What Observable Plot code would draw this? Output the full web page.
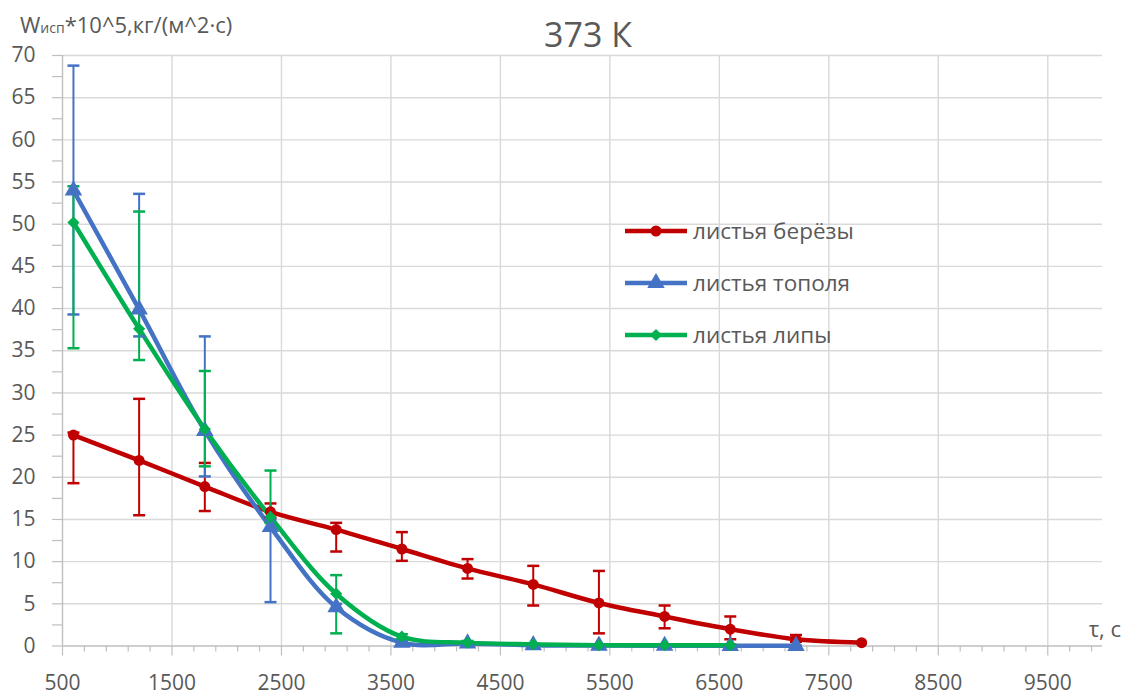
<!DOCTYPE html>
<html>
<head>
<meta charset="utf-8">
<script src="https://cdn.jsdelivr.net/npm/d3@7"></script>
<script src="https://cdn.jsdelivr.net/npm/@observablehq/plot@0.6"></script>
<style>
  html, body { margin: 0; padding: 0; background: #fff; }
  #wrap { position: relative; width: 1131px; height: 695px; font-family: "Open Sans", "Noto Sans", sans-serif; }
  #wrap svg { position: absolute; left: 0; top: 0; }
</style>
</head>
<body>
<div id="wrap"></div>
<script>
// ---- data ----
const tau = [600, 1200, 1800, 2400, 3000, 3600, 4200, 4800, 5400, 6000, 6600, 7200, 7800];

const birch   = [25.0, 22.0, 18.9, 15.9, 13.8, 11.5, 9.2, 7.3, 5.1, 3.5, 2.0, 0.8, 0.4];
const birchHi = [25.3, 29.3, 21.7, 16.9, 14.6, 13.5, 10.3, 9.5, 8.9, 4.8, 3.5, 1.3, null];
const birchLo = [19.3, 15.5, 16.0, 15.2, 11.2, 10.1, 8.0, 4.8, 1.5, 2.1, 0.8, 0.5, null];

const poplar   = [54.0, 39.9, 25.5, 14.1, 4.6, 0.4, 0.3, 0.1, 0.05, 0.03, 0.02, 0.02];
const poplarHi = [68.8, 53.6, 36.7, 15.0, 5.0, 0.6, 0.5, 0.2, 0.1, 0.05, 0.04, 0.04];
const poplarLo = [39.3, 36.7, 20.1, 5.2, 4.2, 0.2, 0.1, 0.0, 0.0, 0.0, 0.0, 0.0];

const linden   = [50.2, 37.6, 25.7, 15.3, 6.2, 1.1, 0.4, 0.2, 0.1, 0.1, 0.1];
const lindenHi = [54.5, 51.5, 32.6, 20.8, 8.4, 1.4, 0.6, 0.3, 0.2, 0.2, 0.2];
const lindenLo = [35.3, 33.9, 21.3, 14.6, 1.5, 0.8, 0.2, 0.1, 0.0, 0.0, 0.0];

const seriesNames = ["листья берёзы", "листья тополя", "листья липы"];
const seriesColors = ["#C00000", "#4472C4", "#00B050"];
const seriesSymbols = ["circle", "triangle", "diamond2"];

const xTicksMajor = [500, 1500, 2500, 3500, 4500, 5500, 6500, 7500, 8500, 9500];
const xTicksMinor = d3.range(500, 10001, 200);
const yTicksMajor = d3.range(0, 70.1, 5);
const yTicksMinor = d3.range(0, 70.1, 2.5);

const titleText = "373 К";
const xLabelText = "τ, с";

// ---- build tables ----
function rows(vals, hi, lo) {
  return vals.map((v, i) => ({tau: tau[i], v, hi: hi[i], lo: lo[i]}));
}
const tables = [rows(birch, birchHi, birchLo), rows(poplar, poplarHi, poplarLo), rows(linden, lindenHi, lindenLo)];

const capSymbol = {
  draw(ctx, size) {
    const r = Math.sqrt(size / Math.PI);
    ctx.moveTo(-r, 0);
    ctx.lineTo(r, 0);
  }
};

const W = 1131, H = 695;
const txt = "#595959";
const grid = "#d9d9d9";
const axisC = "#bfbfbf";

const marks = [
  Plot.gridX(xTicksMajor.slice(1), {stroke: grid, strokeOpacity: 1, strokeWidth: 1.4}),
  Plot.gridY(yTicksMajor.slice(1), {stroke: grid, strokeOpacity: 1, strokeWidth: 1.4}),
  Plot.ruleX([500], {stroke: axisC, strokeWidth: 1.4}),
  Plot.ruleY([0], {stroke: axisC, strokeWidth: 1.4}),
  Plot.axisX(xTicksMinor.filter(t => (t - 500) % 1000 !== 0), {tickSize: 6, text: null, stroke: axisC, strokeWidth: 1.2, label: null}),
  Plot.axisX(xTicksMajor, {tickSize: 10, text: null, stroke: axisC, strokeWidth: 1.2, label: null}),
  Plot.axisX(xTicksMajor, {tickSize: 0, tickPadding: 29, fontSize: 21, fill: txt, label: null, tickFormat: d => String(d)}),
  Plot.axisY(yTicksMinor, {tickSize: 10, text: null, stroke: axisC, strokeWidth: 1.2, label: null}),
  Plot.axisY(yTicksMajor, {tickSize: 0, tickPadding: 27, fontSize: 21, fill: txt, label: null, tickFormat: d => String(d)})
];

tables.forEach((t, i) => {
  marks.push(Plot.line(t, {x: "tau", y: "v", stroke: seriesColors[i], strokeWidth: 4.5, curve: "catmull-rom"}));
});
tables.forEach((t, i) => {
  const e = t.filter(d => d.hi != null);
  marks.push(Plot.ruleX(e, {x: "tau", y1: "lo", y2: "hi", stroke: seriesColors[i], strokeWidth: 2}));
  marks.push(Plot.dot(e, {x: "tau", y: "hi", symbol: capSymbol, r: 6, stroke: seriesColors[i], strokeWidth: 2.5, fill: "none"}));
  marks.push(Plot.dot(e, {x: "tau", y: "lo", symbol: capSymbol, r: 6, stroke: seriesColors[i], strokeWidth: 2.5, fill: "none"}));
});
tables.forEach((t, i) => {
  marks.push(Plot.dot(t, {x: "tau", y: "v", symbol: seriesSymbols[i], r: i === 1 ? 6.5 : 5.5, fill: seriesColors[i], stroke: "none"}));
});

const chart = Plot.plot({
  width: W,
  height: H,
  marginLeft: 62,
  marginRight: 29,
  marginTop: 55,
  marginBottom: 49.5,
  style: {fontFamily: "'Open Sans', 'Noto Sans', sans-serif", fontSize: "21px", color: txt, background: "#fff"},
  x: {domain: [500, 10000]},
  y: {domain: [0, 70]},
  marks
});
document.getElementById("wrap").appendChild(chart);

// ---- overlay: title, axis titles, legend ----
const ov = d3.select("#wrap").append("svg")
  .attr("width", W).attr("height", H)
  .style("font-family", "'Open Sans', 'Noto Sans', sans-serif")
  .style("pointer-events", "none");

ov.append("text").attr("x", 588).attr("y", 47).attr("text-anchor", "middle")
  .attr("font-size", 34).attr("fill", txt).text(titleText);

const yt = ov.append("text").attr("x", 20).attr("y", 33).attr("font-size", 22).attr("fill", txt);
yt.append("tspan").text("W");
yt.append("tspan").attr("font-size", 14).text("исп");
yt.append("tspan").text("*10^5,кг/(м^2·с)");

ov.append("text").attr("x", 1121).attr("y", 637).attr("text-anchor", "end")
  .attr("font-size", 22).attr("fill", txt).text(xLabelText);

const legY = [231, 283, 335];
seriesNames.forEach((name, i) => {
  const g = ov.append("g");
  g.append("line").attr("x1", 625).attr("x2", 687).attr("y1", legY[i]).attr("y2", legY[i])
    .attr("stroke", seriesColors[i]).attr("stroke-width", 4.5);
  const symMap = {circle: d3.symbolCircle, triangle: d3.symbolTriangle, diamond2: d3.symbolDiamond2};
  const r = i === 1 ? 6.5 : 5.5;
  g.append("path").attr("d", d3.symbol(symMap[seriesSymbols[i]], Math.PI * r * r)())
    .attr("transform", `translate(656,${legY[i]})`).attr("fill", seriesColors[i]);
  g.append("text").attr("x", 693).attr("y", legY[i] + 8).attr("font-size", 22.5).attr("fill", txt).text(name);
});
</script>
</body>
</html>
